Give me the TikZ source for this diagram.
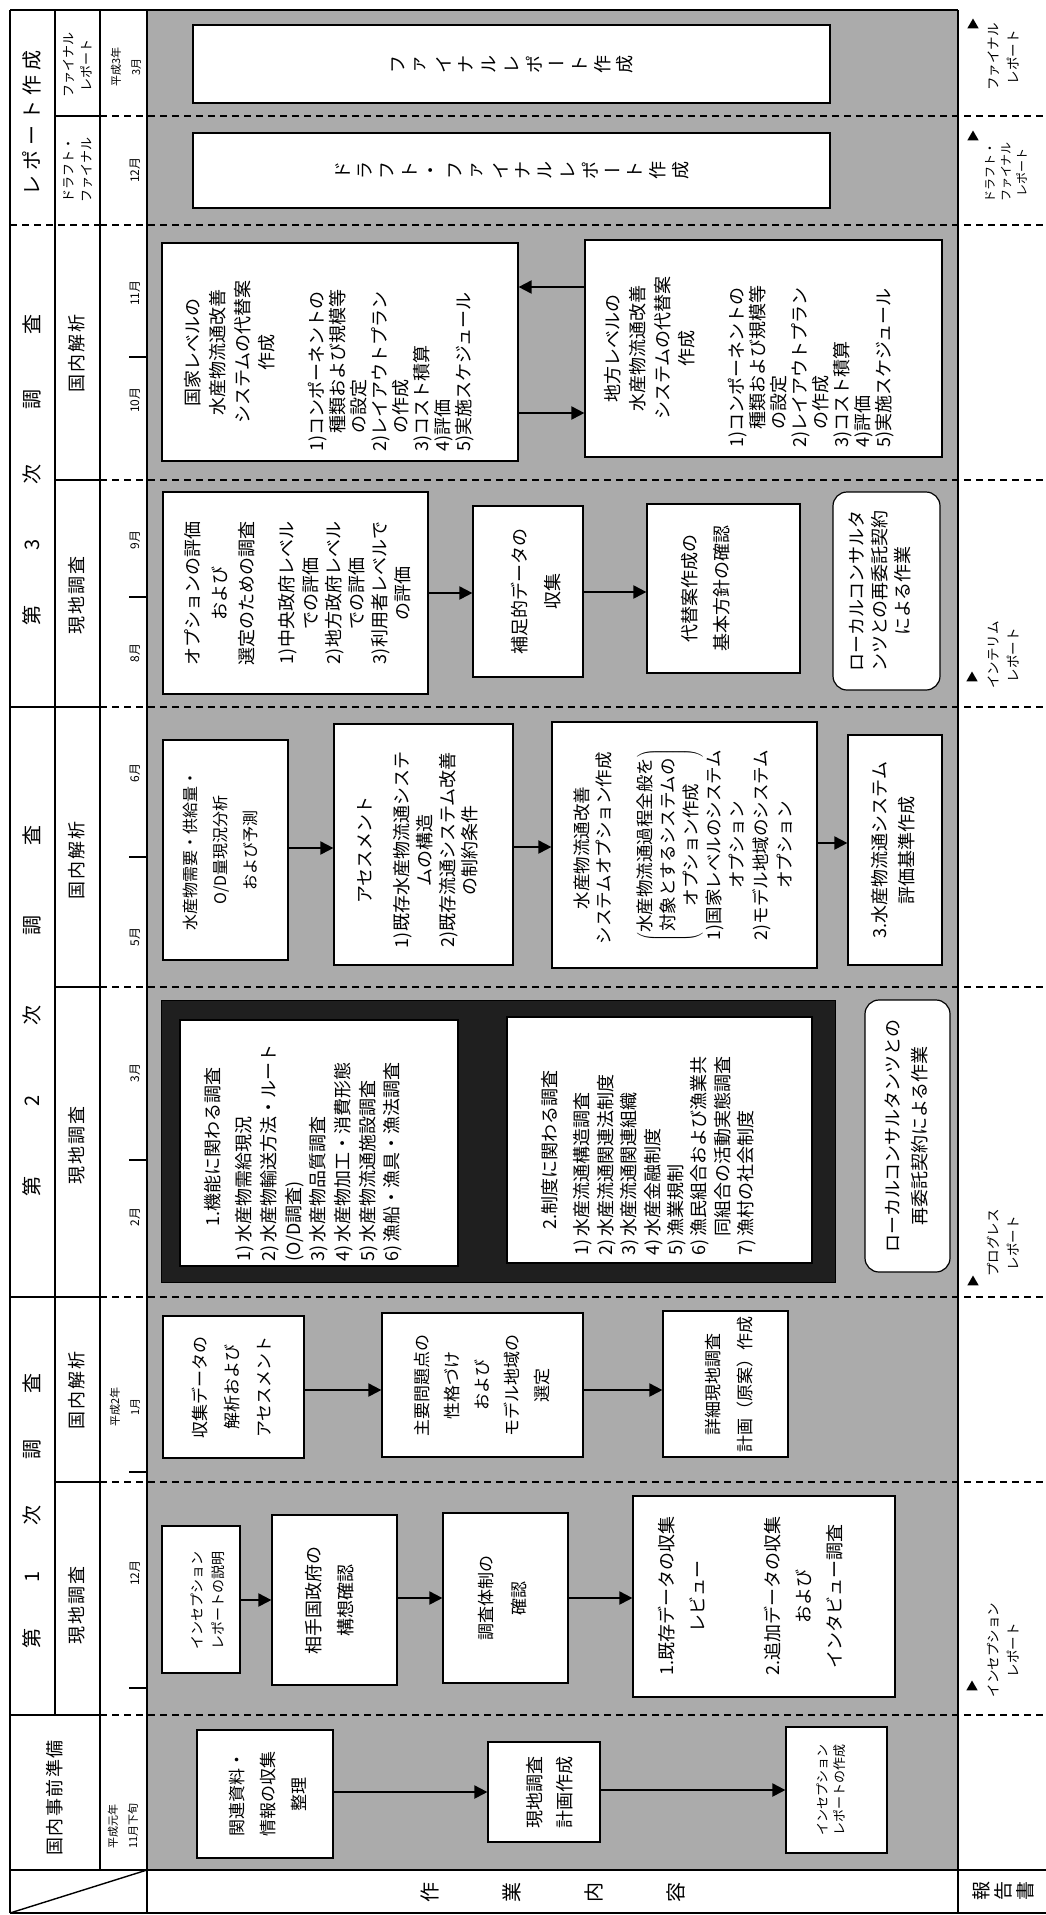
\documentclass[tikz,border=0pt]{standalone}
\usepackage{fontspec}
\setmainfont{Noto Sans CJK JP}
\usepackage{graphicx}
\usetikzlibrary{arrows.meta,shapes.geometric}
\makeatletter
\newcommand\fsz[2]{\fontsize{#1}{#2}\selectfont}
\newcommand\spstr[2]{\def\sp@sep{\hspace{#1}}\let\sp@first\relax\@tfor\sp@c:=#2\do{\sp@first\sp@c\let\sp@first\sp@sep}}
\def\tt@bar{ー}
\newcommand\tatestr[2]{\def\tt@pitch{#1}\@tfor\tt@c:=#2\do{\tt@one}}
\def\tt@one{\ifx\tt@c\tt@bar\makebox[\tt@pitch]{\raisebox{0.12em}{ー}}\else\makebox[\tt@pitch]{\rotatebox{90}{\tt@c}}\fi}
\newcommand\pbx[6][wbox]{\node[#1, minimum width={#4-#2}, minimum height={#5-#3}] (#6) at ({(#2+#4)/2},{(#3+#5)/2}) {};}
\makeatother
\begin{document}
\begin{tikzpicture}[x=1pt,y=-1pt,
  wbox/.style={draw, line width=1.2pt, fill=white, inner sep=0pt},
  rbox/.style={wbox, rounded corners=14pt},
  blk/.style={draw, fill=black!88, inner sep=0pt},
  txt/.style={rotate=90, inner sep=0pt, align=center},
  ltxt/.style={rotate=90, inner sep=0pt, align=left, anchor=west},
  arr/.style={line width=2pt, -{Triangle[length=13pt,width=13pt]}},
  bnd/.style={line width=1.3pt, dash pattern=on 7pt off 5pt},
  sol/.style={line width=1.4pt},
  thk/.style={line width=2.6pt},
  tri/.style={regular polygon, regular polygon sides=3, fill=black, inner sep=0pt, minimum size=13pt},
]
\useasboundingbox (0,0) rectangle (1046,1915);
\fill[white] (0,0) rectangle (1046,1915);
\fill[black!33] (147,10) rectangle (958,1870);

% boundaries
\foreach \b in {116,225,480,707,987,1297,1482,1715}{
  \draw[bnd] (100,\b) -- (1046,\b);
}
\draw[bnd] (10,225) -- (100,225);
\draw[sol] (55,116) -- (100,116);
\draw[sol] (55,480) -- (100,480);
\draw[sol] (10,707) -- (100,707);
\draw[sol] (55,987) -- (100,987);
\draw[sol] (10,1297) -- (100,1297);
\draw[sol] (55,1482) -- (100,1482);
\draw[sol] (10,1715) -- (100,1715);

% frame
\draw[sol] (10,10) -- (958,10);
\draw[sol] (10,10) -- (10,1913);
\draw[sol] (55,10) -- (55,1715);
\draw[sol] (100,10) -- (100,1870);
\draw[thk] (147,10) -- (147,1913);
\draw[thk] (958,10) -- (958,1913);
\draw[thk] (10,1870) -- (1046,1870);
\draw[sol] (10,1913) -- (1046,1913);
\draw[sol] (147,1870) -- (10,1913);
\foreach \t in {357,597,857,1160,1472,1688}{\draw[thk] (129,\t) -- (147,\t);}

% header column 1
\node[txt, font=\fsz{20}{24}] (hRep) at (32,123) {\spstr{5pt}{レポート作成}};
\node[txt, font=\fsz{20}{24}] (hP3) at (32,470) {\spstr{55pt}{第3次調査}};
\node[txt, font=\fsz{20}{24}] (hP2) at (32,1011) {\spstr{70pt}{第2次調査}};
\node[txt, font=\fsz{20}{24}] (hP1) at (32,1511) {\spstr{46pt}{第1次調査}};
\node[txt, font=\fsz{18}{22}] (hPre) at (55,1798) {\spstr{1.5pt}{国内事前準備}};

% header column 2
\node[txt, font=\fsz{13}{18}] (cF) at (78,65) {ファイナル\\レポート};
\node[txt, font=\fsz{13}{18}] (cD) at (78,170) {ドラフト・\\ファイナル};
\node[txt, font=\fsz{18}{22}] (c3d) at (77,353) {\spstr{2pt}{国内解析}};
\node[txt, font=\fsz{18}{22}] (c3f) at (77,595) {\spstr{2pt}{現地調査}};
\node[txt, font=\fsz{18}{22}] (c2d) at (77,860) {\spstr{2pt}{国内解析}};
\node[txt, font=\fsz{18}{22}] (c2f) at (77,1145) {\spstr{2pt}{現地調査}};
\node[txt, font=\fsz{18}{22}] (c1d) at (77,1390) {\spstr{2pt}{国内解析}};
\node[txt, font=\fsz{18}{22}] (c1f) at (77,1605) {\spstr{2pt}{現地調査}};

% header column 3 (months)
\node[txt, font=\fsz{11}{20}] (m1) at (126,67) {平成3年\\3月};
\node[txt, font=\fsz{12}{15}] (m2) at (135,170) {12月};
\node[txt, font=\fsz{12}{15}] (m3) at (135,293) {11月};
\node[txt, font=\fsz{12}{15}] (m4) at (135,400) {10月};
\node[txt, font=\fsz{12}{15}] (m5) at (135,540) {9月};
\node[txt, font=\fsz{12}{15}] (m6) at (135,653) {8月};
\node[txt, font=\fsz{12}{15}] (m7) at (135,773) {6月};
\node[txt, font=\fsz{12}{15}] (m8) at (135,937) {5月};
\node[txt, font=\fsz{12}{15}] (m9) at (135,1073) {3月};
\node[txt, font=\fsz{12}{15}] (m10) at (135,1217) {2月};
\node[txt, font=\fsz{11}{20}] (m11) at (125,1407) {平成2年\\1月};
\node[txt, font=\fsz{12}{15}] (m12) at (135,1573) {12月};
\node[txt, font=\fsz{11}{20}] (m13) at (123,1826) {平成元年\\11月下旬};

% ---- boxes ----
% report phase
\pbx{193}{25}{830}{103}{Y}
\pbx{193}{133}{830}{208}{X}
\node[font=\fsz{18}{20}, inner sep=0pt] (Yt) at (511.5,64) {\tatestr{22.7pt}{ファイナルレポート作成}};
\node[font=\fsz{18}{20}, inner sep=0pt] (Xt) at (511.5,170.5) {\tatestr{22.5pt}{ドラフト・ファイナルレポート作成}};

% 3rd domestic
\pbx{162}{243}{518}{461}{V}
\pbx{585}{240}{942}{457}{W}
\node[txt, font=\fsz{18}{24.7}] (Vt) at (230,352) {国家レベルの\\水産物流通改善\\システムの代替案\\作成};
\node[ltxt, font=\fsz{18}{21}] (Vl) at (391,452) {1)コンポーネントの\\\hspace*{1em}種類および規模等\\\hspace*{1em}の設定\\2)レイアウトプラン\\\hspace*{1em}の作成\\3)コスト積算\\4)評価\\5)実施スケジュール};
\node[txt, font=\fsz{18}{24.7}] (Wt) at (650,348) {地方レベルの\\水産物流通改善\\システムの代替案\\作成};
\node[ltxt, font=\fsz{18}{21}] (Wl) at (811,448) {1)コンポーネントの\\\hspace*{1em}種類および規模等\\\hspace*{1em}の設定\\2)レイアウトプラン\\\hspace*{1em}の作成\\3)コスト積算\\4)評価\\5)実施スケジュール};

% 3rd field
\pbx{163}{492}{428}{694}{R}
\pbx{473}{506}{583}{677}{S}
\pbx{647}{504}{800}{673}{T}
\pbx[rbox]{833}{492}{940}{690}{U}
\node[txt, font=\fsz{18}{27}] (Rt) at (220,593) {オプションの評価\\および\\選定のための調査};
\node[txt, font=\fsz{18}{23.2}] (Rl) at (345,593) {1)中央政府レベル\\での評価\\2)地方政府レベル\\での評価\\3)利用者レベルで\\の評価};
\node[txt, font=\fsz{18}{33}] (St) at (536,591) {補足的データの\\収集};
\node[txt, font=\fsz{18}{32}] (Tt) at (706,588) {代替案作成の\\基本方針の確認};
\node[txt, font=\fsz{18}{23}] (Ut) at (880,591) {ローカルコンサルタ\\ンツとの再委託契約\\による作業};

% 2nd domestic
\pbx{163}{740}{288}{960}{N}
\pbx{334}{724}{513}{965}{O}
\pbx{552}{722}{817}{968}{P}
\pbx{848}{735}{942}{965}{Q}
\node[txt, font=\fsz{16}{30}] (Nt) at (220,850) {水産物需要・供給量・\\O/D量現況分析\\および予測};
\node[txt, font=\fsz{18}{22}] (Ot) at (365,850) {アセスメント};
\node[txt, font=\fsz{18}{22.7}] (Ol) at (436,850) {1)既存水産物流通システ\\ムの構造\\2)既存流通システム改善\\の制約条件};
\node[txt, font=\fsz{17.5}{22}] (Pt) at (593,848) {水産物流通改善\\システムオプション作成};
\node[txt, font=\fsz{17.5}{23}] (Pp) at (670,845) {$\left(\begin{tabular}{@{}c@{}}水産物流通過程全般を\\対象とするシステムの\\オプション作成\end{tabular}\right)$};
\node[txt, font=\fsz{17.5}{23.8}] (Pl) at (749,845) {1)国家レベルのシステム\\オプション\\2)モデル地域のシステム\\オプション};
\node[txt, font=\fsz{18}{27}] (Qt) at (893,850) {3.水産物流通システム\\評価基準作成};

% 2nd field
\pbx[blk]{161}{1000}{835}{1282}{blkframe}
\pbx{180}{1020}{458}{1266}{K}
\pbx{507}{1017}{812}{1263}{L}
\pbx[rbox]{865}{1000}{950}{1272}{M}
\node[txt, font=\fsz{18}{22}] (Kt) at (213,1147) {1.機能に関わる調査};
\node[ltxt, font=\fsz{18}{24.7}] (Kl) at (319,1262) {1)\kern3pt 水産物需給現況\\2)\kern3pt 水産物輸送方法・ルート\\(O/D調査)\\3)\kern3pt 水産物品質調査\\4)\kern3pt 水産物加工・消費形態\\5)\kern3pt 水産物流通施設調査\\6)\kern3pt 漁船・漁具・漁法調査};
\node[txt, font=\fsz{18}{22}] (Lt) at (550,1150) {2.制度に関わる調査};
\node[ltxt, font=\fsz{18}{23.4}] (Ll) at (665,1256) {1)\kern3pt 水産流通構造調査\\2)\kern3pt 水産流通関連法制度\\3)\kern3pt 水産流通関連組織\\4)\kern3pt 水産金融制度\\5)\kern3pt 漁業規制\\6)\kern3pt 漁民組合および漁業共\\\hspace*{1.1em}同組合の活動実態調査\\7)\kern3pt 漁村の社会制度};
\node[txt, font=\fsz{18}{27}] (Mt) at (906,1136) {ローカルコンサルタンツとの\\再委託契約による作業};

% 1st domestic
\pbx{163}{1316}{304}{1458}{H}
\pbx{382}{1313}{583}{1457}{I}
\pbx{663}{1311}{788}{1457}{J}
\node[txt, font=\fsz{17}{32}] (Ht) at (232,1387) {収集データの\\解析および\\アセスメント};
\node[txt, font=\fsz{17}{30}] (It) at (482,1385) {主要問題点の\\性格づけ\\および\\モデル地域の\\選定};
\node[txt, font=\fsz{17}{32}] (Jt) at (729,1384) {詳細現地調査\\計画（原案）作成};

% 1st field
\pbx{162}{1526}{240}{1673}{D}
\pbx{272}{1515}{397}{1685}{E}
\pbx{443}{1513}{568}{1683}{F}
\pbx{633}{1496}{895}{1697}{G}
\node[txt, font=\fsz{14}{21}] (Dt) at (208,1600) {インセプション\\レポートの説明};
\node[txt, font=\fsz{18}{32}] (Et) at (330,1600) {相手国政府の\\構想確認};
\node[txt, font=\fsz{17}{33}] (Ft) at (503,1598) {調査体制の\\確認};
\node[txt, font=\fsz{18}{31}] (Gt) at (751,1596) {1.既存データの収集\\レビュー\\[44pt]2.追加データの収集\\および\\インタビュー調査};

% preparation
\pbx{197}{1730}{333}{1858}{A}
\pbx{488}{1742}{600}{1842}{B}
\pbx{786}{1727}{887}{1853}{C}
\node[txt, font=\fsz{17}{31}] (At) at (268,1794) {関連資料・\\情報の収集\\整理};
\node[txt, font=\fsz{18}{30}] (Bt) at (550,1792) {現地調査\\計画作成};
\node[txt, font=\fsz{13}{17}] (Ct) at (831,1790) {インセプション\\レポートの作成};

% arrows
\draw[arr] (A.east |- 0,1792) -- (B.west |- 0,1792);
\draw[arr] (B.east |- 0,1790) -- (C.west |- 0,1790);
\draw[arr] (D.east |- 0,1600) -- (E.west |- 0,1600);
\draw[arr] (E.east |- 0,1598) -- (F.west |- 0,1598);
\draw[arr] (F.east |- 0,1598) -- (G.west |- 0,1598);
\draw[arr] (H.east |- 0,1390) -- (I.west |- 0,1390);
\draw[arr] (I.east |- 0,1390) -- (J.west |- 0,1390);
\draw[arr] (N.east |- 0,848) -- (O.west |- 0,848);
\draw[arr] (O.east |- 0,847) -- (P.west |- 0,847);
\draw[arr] (P.east |- 0,843) -- (Q.west |- 0,843);
\draw[arr] (R.east |- 0,593) -- (S.west |- 0,593);
\draw[arr] (S.east |- 0,592) -- (T.west |- 0,592);
\draw[arr] (V.east |- 0,413) -- (W.west |- 0,413);
\draw[arr] (W.west |- 0,287) -- (V.east |- 0,287);

% report row
\node[tri] (tr1) at (973,25) {};
\node[txt, font=\fsz{13.5}{20}] (rl1) at (1003,57) {ファイナル\\レポート};
\node[tri] (tr2) at (973,137) {};
\node[txt, font=\fsz{12}{16}] (rl2) at (1006,172) {ドラフト・\\ファイナル\\レポート};
\node[tri] (tr3) at (972,678) {};
\node[txt, font=\fsz{13.5}{20}] (rl3) at (1003,655) {インテリム\\レポート};
\node[tri] (tr4) at (973,1282) {};
\node[txt, font=\fsz{13.5}{20}] (rl4) at (1003,1243) {プログレス\\レポート};
\node[tri] (tr5) at (972,1687) {};
\node[txt, font=\fsz{13.5}{20}] (rl5) at (1003,1650) {インセプション\\レポート};

% bottom strip
\node[font=\fsz{20}{24}, inner sep=0pt] (wk) at (553,1892) {\tatestr{82pt}{作業内容}};
\node[font=\fsz{19}{24}, inner sep=0pt] (rp) at (1003,1891) {\tatestr{22pt}{報告書}};
\end{tikzpicture}
\end{document}
